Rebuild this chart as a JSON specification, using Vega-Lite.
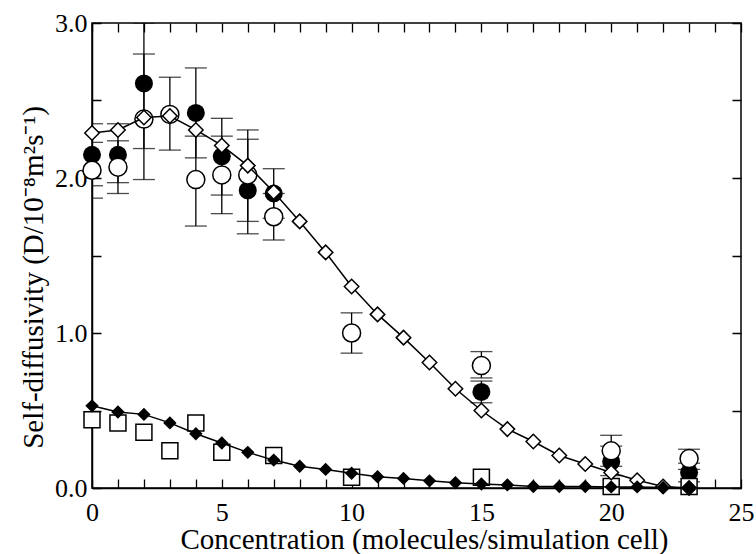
{
  "$schema": "https://vega.github.io/schema/vega-lite/v6.json",
  "width": 649,
  "height": 465,
  "autosize": "none",
  "padding": {"left": 92, "top": 23, "right": 15, "bottom": 66},
  "background": "white",
  "config": {
    "view": {"stroke": "black", "strokeWidth": 1.5},
    "font": "Liberation Serif",
    "axis": {
      "domainColor": "black",
      "domainWidth": 1.5,
      "tickColor": "black",
      "tickWidth": 1.3,
      "gridColor": "black",
      "gridWidth": 1.3,
      "gridOpacity": 1,
      "labelColor": "black",
      "titleColor": "black",
      "labelFont": "Liberation Serif",
      "titleFont": "Liberation Serif",
      "labelFontSize": 26,
      "titleFontSize": 29,
      "titleFontWeight": "normal"
    }
  },
  "datasets": {
    "diamondOpen": [
      {"x": 0, "y": 2.29}, {"x": 1, "y": 2.31}, {"x": 2, "y": 2.39}, {"x": 3, "y": 2.40},
      {"x": 4, "y": 2.31}, {"x": 5, "y": 2.21}, {"x": 6, "y": 2.08}, {"x": 7, "y": 1.91},
      {"x": 8, "y": 1.72}, {"x": 9, "y": 1.52}, {"x": 10, "y": 1.30}, {"x": 11, "y": 1.12},
      {"x": 12, "y": 0.97}, {"x": 13, "y": 0.81}, {"x": 14, "y": 0.64}, {"x": 15, "y": 0.50},
      {"x": 16, "y": 0.38}, {"x": 17, "y": 0.30}, {"x": 18, "y": 0.21}, {"x": 19, "y": 0.155},
      {"x": 20, "y": 0.10}, {"x": 21, "y": 0.05}, {"x": 22, "y": 0.01}, {"x": 23, "y": 0.0}
    ],
    "diamondFilled": [
      {"x": 0, "y": 0.53}, {"x": 1, "y": 0.49}, {"x": 2, "y": 0.475}, {"x": 3, "y": 0.42},
      {"x": 4, "y": 0.35}, {"x": 5, "y": 0.29}, {"x": 6, "y": 0.23}, {"x": 7, "y": 0.18},
      {"x": 8, "y": 0.14}, {"x": 9, "y": 0.12}, {"x": 10, "y": 0.095}, {"x": 11, "y": 0.073},
      {"x": 12, "y": 0.062}, {"x": 13, "y": 0.046}, {"x": 14, "y": 0.034}, {"x": 15, "y": 0.026},
      {"x": 16, "y": 0.02}, {"x": 17, "y": 0.01}, {"x": 18, "y": 0.01}, {"x": 19, "y": 0.01},
      {"x": 20, "y": 0.007}, {"x": 21, "y": 0.007}, {"x": 22, "y": 0.004}, {"x": 23, "y": 0.0}
    ],
    "circFilled": [
      {"x": 0, "y": 2.15}, {"x": 1, "y": 2.15}, {"x": 2, "y": 2.61}, {"x": 4, "y": 2.42},
      {"x": 5, "y": 2.14}, {"x": 6, "y": 1.92}, {"x": 7, "y": 1.90}, {"x": 15, "y": 0.62},
      {"x": 20, "y": 0.17}, {"x": 23, "y": 0.10}
    ],
    "circOpen": [
      {"x": 0, "y": 2.05}, {"x": 1, "y": 2.07}, {"x": 2, "y": 2.38}, {"x": 3, "y": 2.41},
      {"x": 4, "y": 1.99}, {"x": 5, "y": 2.02}, {"x": 6, "y": 2.02}, {"x": 7, "y": 1.75},
      {"x": 10, "y": 1.00}, {"x": 15, "y": 0.79}, {"x": 20, "y": 0.24}, {"x": 23, "y": 0.19}
    ],
    "squares": [
      {"x": 0, "y": 0.44}, {"x": 1, "y": 0.42}, {"x": 2, "y": 0.36}, {"x": 3, "y": 0.24},
      {"x": 4, "y": 0.42}, {"x": 5, "y": 0.23}, {"x": 7, "y": 0.21}, {"x": 10, "y": 0.07},
      {"x": 15, "y": 0.07}, {"x": 20, "y": 0.01}, {"x": 23, "y": 0.01}
    ],
    "errors": [
      {"x": 0, "lo": 1.95, "hi": 2.35}, {"x": 0, "lo": 1.87, "hi": 2.23},
      {"x": 1, "lo": 1.97, "hi": 2.35}, {"x": 1, "lo": 1.90, "hi": 2.24},
      {"x": 2, "lo": 2.19, "hi": 3.0}, {"x": 2, "lo": 1.99, "hi": 2.80},
      {"x": 3, "lo": 2.18, "hi": 2.65},
      {"x": 4, "lo": 2.13, "hi": 2.71}, {"x": 4, "lo": 1.69, "hi": 2.27},
      {"x": 5, "lo": 1.89, "hi": 2.385}, {"x": 5, "lo": 1.77, "hi": 2.27},
      {"x": 6, "lo": 1.64, "hi": 2.25}, {"x": 6, "lo": 1.72, "hi": 2.31},
      {"x": 7, "lo": 1.74, "hi": 2.06}, {"x": 7, "lo": 1.60, "hi": 1.90},
      {"x": 10, "lo": 0.87, "hi": 1.13},
      {"x": 15, "lo": 0.55, "hi": 0.69}, {"x": 15, "lo": 0.71, "hi": 0.88},
      {"x": 20, "lo": 0.08, "hi": 0.27}, {"x": 20, "lo": 0.14, "hi": 0.34},
      {"x": 23, "lo": 0.04, "hi": 0.16}, {"x": 23, "lo": 0.12, "hi": 0.25}
    ]
  },
  "layer": [
    {
      "data": {"name": "errors"},
      "mark": {"type": "errorbar", "ticks": {"size": 22, "color": "black", "thickness": 1.3}, "rule": {"color": "black", "strokeWidth": 1.3}, "clip": true},
      "encoding": {
        "x": {"field": "x", "type": "quantitative", "scale": {"domain": [0, 25], "nice": false}, "axis": null},
        "y": {"field": "lo", "type": "quantitative", "scale": {"domain": [0, 3], "nice": false}, "axis": null},
        "y2": {"field": "hi"}
      }
    },
    {
      "data": {"name": "circFilled"},
      "mark": {"type": "point", "shape": "circle", "filled": true, "color": "black", "opacity": 1, "size": 324},
      "encoding": {
        "x": {"field": "x", "type": "quantitative", "scale": {"domain": [0, 25], "nice": false},
          "axis": {
            "orient": "bottom",
            "values": [0,1,2,3,4,5,6,7,8,9,10,11,12,13,14,15,16,17,18,19,20,21,22,23,24,25],
            "labelExpr": "datum.value % 5 === 0 ? datum.label : ''",
            "ticks": false,
            "grid": true,
            "gridDash": [9, 447, 9, 1000],
            "labelPadding": 32,
            "labelBaseline": "alphabetic",
            "labelFlush": false,
            "title": "Concentration (molecules/simulation cell)",
            "titleBaseline": "alphabetic",
            "titleX": 332,
            "titleY": 60
          }
        },
        "y": {"field": "y", "type": "quantitative", "scale": {"domain": [0, 3], "nice": false},
          "axis": {
            "orient": "left",
            "values": [0, 0.5, 1, 1.5, 2, 2.5, 3],
            "labelExpr": "datum.value % 1 === 0 ? format(datum.value, '.1f') : ''",
            "ticks": false,
            "grid": true,
            "gridDash": [9, 631, 9, 1000],
            "labelPadding": 5,
            "labelFlush": false,
            "title": "Self-diffusivity (D/10⁻⁸m²s⁻¹)",
            "titleBaseline": "alphabetic",
            "titleX": -50,
            "titleY": 254
          }
        }
      }
    },
    {
      "data": {"name": "circOpen"},
      "mark": {"type": "point", "shape": "circle", "fill": "white", "stroke": "black", "strokeWidth": 1.5, "opacity": 1, "size": 324},
      "encoding": {
        "x": {"field": "x", "type": "quantitative", "scale": {"domain": [0, 25], "nice": false}, "axis": null},
        "y": {"field": "y", "type": "quantitative", "scale": {"domain": [0, 3], "nice": false}, "axis": null}
      }
    },
    {
      "data": {"name": "squares"},
      "mark": {"type": "point", "shape": "square", "fill": "white", "stroke": "black", "strokeWidth": 1.5, "opacity": 1, "size": 256},
      "encoding": {
        "x": {"field": "x", "type": "quantitative", "scale": {"domain": [0, 25], "nice": false}, "axis": null},
        "y": {"field": "y", "type": "quantitative", "scale": {"domain": [0, 3], "nice": false}, "axis": null}
      }
    },
    {
      "data": {"name": "diamondOpen"},
      "mark": {"type": "line", "color": "black", "strokeWidth": 1.5},
      "encoding": {
        "x": {"field": "x", "type": "quantitative", "scale": {"domain": [0, 25], "nice": false}, "axis": null},
        "y": {"field": "y", "type": "quantitative", "scale": {"domain": [0, 3], "nice": false}, "axis": null}
      }
    },
    {
      "data": {"name": "diamondOpen"},
      "mark": {"type": "point", "shape": "diamond", "fill": "white", "stroke": "black", "strokeWidth": 1.5, "opacity": 1, "size": 210},
      "encoding": {
        "x": {"field": "x", "type": "quantitative", "scale": {"domain": [0, 25], "nice": false}, "axis": null},
        "y": {"field": "y", "type": "quantitative", "scale": {"domain": [0, 3], "nice": false}, "axis": null}
      }
    },
    {
      "data": {"name": "diamondFilled"},
      "mark": {"type": "line", "color": "black", "strokeWidth": 1.5},
      "encoding": {
        "x": {"field": "x", "type": "quantitative", "scale": {"domain": [0, 25], "nice": false}, "axis": null},
        "y": {"field": "y", "type": "quantitative", "scale": {"domain": [0, 3], "nice": false}, "axis": null}
      }
    },
    {
      "data": {"name": "diamondFilled"},
      "mark": {"type": "point", "shape": "diamond", "filled": true, "color": "black", "opacity": 1, "size": 180},
      "encoding": {
        "x": {"field": "x", "type": "quantitative", "scale": {"domain": [0, 25], "nice": false}, "axis": null},
        "y": {"field": "y", "type": "quantitative", "scale": {"domain": [0, 3], "nice": false}, "axis": null}
      }
    }
  ],
  "resolve": {
    "scale": {"x": "independent", "y": "independent"},
    "axis": {"x": "independent", "y": "independent"}
  }
}
